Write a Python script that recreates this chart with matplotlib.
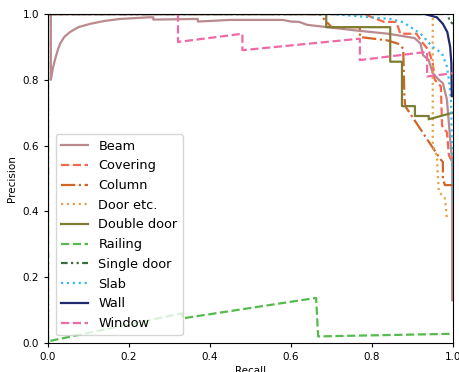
import matplotlib
matplotlib.use('Agg')
import matplotlib.pyplot as plt

# recall / precision points
beam_r = [0.0, 0.007, 0.007, 0.012, 0.017, 0.024, 0.03, 0.04, 0.054, 0.075, 0.104, 0.14, 0.178, 0.25,
          0.26, 0.26, 0.37, 0.37, 0.45, 0.58, 0.60, 0.62, 0.64, 0.69, 0.76, 0.84, 0.89, 0.905,
          0.92, 0.926, 0.94, 0.95, 0.965, 0.975, 0.985, 0.993, 0.998, 0.998]
beam_p = [1.0, 1.0, 0.80, 0.835, 0.86, 0.89, 0.91, 0.93, 0.945, 0.96, 0.97, 0.979, 0.985, 0.99,
          0.99, 0.983, 0.985, 0.977, 0.982, 0.982, 0.977, 0.976, 0.967, 0.96, 0.95, 0.94, 0.93,
          0.927, 0.91, 0.875, 0.86, 0.82, 0.80, 0.79, 0.74, 0.62, 0.55, 0.13]

covering_r = [0.0, 0.78, 0.80, 0.83, 0.86, 0.87, 0.91, 0.92, 0.94, 0.95, 0.955, 0.97, 0.973, 0.985,
              0.99, 0.998]
covering_p = [1.0, 1.0, 0.99, 0.976, 0.976, 0.94, 0.94, 0.92, 0.89, 0.85, 0.80, 0.78, 0.66, 0.64,
              0.57, 0.55]

column_r = [0.0, 0.67, 0.70, 0.77, 0.77, 0.837, 0.864, 0.877, 0.88, 0.882, 0.968, 0.975, 0.975,
            0.98, 1.0]
column_p = [1.0, 1.0, 0.96, 0.96, 0.93, 0.92, 0.91, 0.895, 0.75, 0.72, 0.56, 0.55, 0.50, 0.48, 0.48]

door_r = [0.0, 0.95, 0.95, 0.96, 0.965, 0.98, 0.985]
door_p = [1.0, 1.0, 0.60, 0.57, 0.46, 0.44, 0.38]

double_r = [0.0, 0.687, 0.687, 0.845, 0.845, 0.874, 0.874, 0.906, 0.906, 0.94, 0.94, 1.0]
double_p = [1.0, 1.0, 0.96, 0.96, 0.855, 0.855, 0.72, 0.72, 0.69, 0.69, 0.68, 0.70]

railing_r = [0.0, 0.0, 0.33, 0.333, 0.662, 0.667, 1.0]
railing_p = [1.0, 0.005, 0.09, 0.075, 0.137, 0.02, 0.028]

single_r = [0.0, 0.0, 0.99, 0.99, 1.0]
single_p = [0.0, 1.0, 1.0, 0.98, 0.97]

slab_r = [0.0, 0.70, 0.845, 0.877, 0.92, 0.95, 0.973, 0.985, 0.99, 0.995, 1.0]
slab_p = [1.0, 1.0, 0.985, 0.975, 0.94, 0.90, 0.88, 0.84, 0.80, 0.74, 0.42]

wall_r = [0.0, 0.93, 0.96, 0.975, 0.986, 0.993, 0.996, 0.997]
wall_p = [1.0, 1.0, 0.99, 0.97, 0.945, 0.90, 0.85, 0.75]

window_r = [0.0, 0.321, 0.321, 0.48, 0.48, 0.77, 0.77, 0.936, 0.936, 1.0]
window_p = [1.0, 1.0, 0.915, 0.94, 0.89, 0.925, 0.86, 0.885, 0.81, 0.82]

curves = [
    ('Beam', beam_r, beam_p, '#b98a8e', '-'),
    ('Covering', covering_r, covering_p, '#f5684e', '--'),
    ('Column', column_r, column_p, '#cf6527', '-.'),
    ('Door etc.', door_r, door_p, '#e2a24c', ':'),
    ('Double door', double_r, double_p, '#7f7d34', '-'),
    ('Railing', railing_r, railing_p, '#55bb4d', '--'),
    ('Single door', single_r, single_p, '#3b6e3f', (0, (3, 1.5, 1, 1.5, 1, 1.5))),
    ('Slab', slab_r, slab_p, '#33bdef', ':'),
    ('Wall', wall_r, wall_p, '#222a6e', '-'),
    ('Window', window_r, window_p, '#ee6aa7', '--'),
]

fig = plt.figure(figsize=(4.59, 3.72), dpi=100)
ax = fig.add_axes([48 / 459, 29 / 372, 405 / 459, 329 / 372])

for name, r, p, c, ls in curves:
    ax.plot(r, p, color=c, linestyle=ls, linewidth=1.6, label=name)

ax.set_xlim(0, 1)
ax.set_ylim(0, 1)
ax.set_xticks([0, 0.2, 0.4, 0.6, 0.8, 1.0])
ax.set_yticks([0, 0.2, 0.4, 0.6, 0.8, 1.0])
ax.tick_params(labelsize=7.5, length=3)
ax.set_xlabel('Recall', fontsize=7.5, labelpad=3)
ax.set_ylabel('Precision', fontsize=7.5, labelpad=4)

ax.legend(loc='lower left', fontsize=9.3, labelspacing=0.52, handlelength=2.1,
          borderaxespad=0.6)

fig.savefig('out.png', dpi=100)
